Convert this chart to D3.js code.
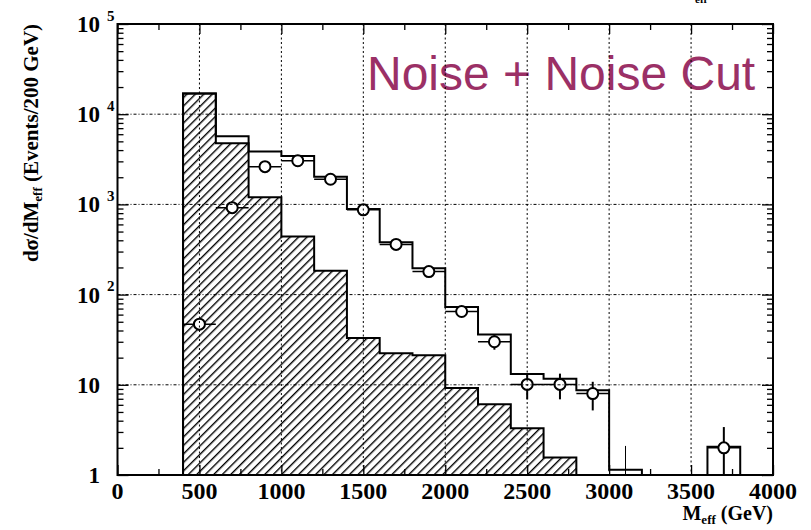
<!DOCTYPE html>
<html><head><meta charset="utf-8">
<script src="https://cdn.jsdelivr.net/npm/d3@7"></script>
<style>
html,body{margin:0;padding:0;background:#fff;}
svg{display:block;}
</style></head>
<body>
<svg id="c" width="811" height="530"></svg>
<script>
// ---------------- data ----------------
const binStarts = [400,600,800,1000,1200,1400,1600,1800,2000,2200,2400,2600,2800,3000,3200,3400,3600];
const binWidth = 200;
// open histogram (total expectation)
const totalMC = [17000,5700,3850,3450,2030,890,380,196,73,36,13.2,11.7,8.7,1.14,0,0,2.06];
// hatched histogram (noise)
const noiseMC = [17000,4750,1200,440,184,33,22.4,21.2,9.2,6.1,3.3,1.56,0,0,0,0,0];
// data points
const dataX = [500,700,900,1100,1300,1500,1700,1900,2100,2300,2500,2700,2900,3700];
const dataY = [47,920,2620,3050,1900,870,360,180,65,30,10.1,10.1,8.0,2.0];
const dataErr = [6.9,30,51,55,44,29.5,19,13.4,8.1,5.5,3.2,3.2,2.8,1.4];
// MC error marker on the 3000-3200 bin
const mcErrX = [3100];
const mcErrHi = [2.1];
// axis ticks / labels
const xMajor = [0,500,1000,1500,2000,2500,3000,3500,4000];
const xMinor = [250,750,1250,1750,2250,2750,3250,3750];
const xGrid = [500,1000,1500,2000,2500,3000,3500];
const yMajor = [1,10,100,1000,10000,100000];
const yBase = ["1","10","10","10","10","10"];
const yExp = ["","","2","3","4","5"];
const yGrid = [10,100,1000,10000];
const title = "Noise + Noise Cut";

// ---------------- layout ----------------
const L = 117.5, R = 773, T = 24, B = 475;
const svg = d3.select("#c");
const x = d3.scaleLinear().domain([0,4000]).range([L,R]);
const y = d3.scaleLog().domain([1,1e5]).range([B,T]).clamp(true);
const yv = v => v > 0 ? y(v) : B + 3;

const serif = "'Liberation Serif','Times New Roman',serif";

// minor y ticks (2..9 per decade)
const yMinor = [];
[1,10,100,1000,10000].forEach(d => { [2,3,4,5,6,7,8,9].forEach(m => yMinor.push(d*m)); });

svg.append("defs").html(`
 <clipPath id="plot"><rect x="${L}" y="${T}" width="${R-L}" height="${B-T}"/></clipPath>
 <pattern id="hatch" patternUnits="userSpaceOnUse" width="6" height="6" patternTransform="rotate(45)">
   <line x1="0.7" y1="0" x2="0.7" y2="6" stroke="#000" stroke-width="1.4"/>
 </pattern>`);

const g = svg.append("g").attr("clip-path","url(#plot)");

// step path builder
function stepPath(vals, closeToBottom){
  let p = `M${x(binStarts[0])},${B+3}`;
  let last = 0;
  vals.forEach((v,i) => {
    const lo = binStarts[i], hi = lo + binWidth;
    p += `L${x(lo)},${yv(v)}L${x(hi)},${yv(v)}`;
    last = hi;
  });
  p += `L${x(last)},${B+3}`;
  if (closeToBottom) p += "Z";
  return p;
}
const noiseIdx = noiseMC.map((v,i)=>v>0?i:-1).filter(i=>i>=0);
const noiseVals = noiseMC.slice(0, noiseIdx[noiseIdx.length-1]+1);
g.append("path").attr("d", stepPath(noiseVals, true))
  .attr("fill","url(#hatch)").attr("stroke","#000").attr("stroke-width",2).attr("stroke-linejoin","miter");

// open total histogram
g.append("path").attr("d", stepPath(totalMC, false))
  .attr("fill","none").attr("stroke","#000").attr("stroke-width",2);

// MC error marker
g.selectAll(".mce").data(mcErrX).join("line")
  .attr("x1",d=>x(d)).attr("x2",d=>x(d))
  .attr("y1",(d,i)=>y(mcErrHi[i])).attr("y2",B)
  .attr("stroke","#000").attr("stroke-width",1);

// title text
svg.append("text").attr("x",367).attr("y",89.5)
  .attr("font-family","'Liberation Sans',Arial,sans-serif").attr("font-size",48)
  .attr("fill","#9b3066").text(title);

// data points
const pts = g.selectAll(".pt").data(dataX).join("g");
pts.append("line")
  .attr("x1",d=>x(d-binWidth/2)).attr("x2",d=>x(d+binWidth/2))
  .attr("y1",(d,i)=>y(dataY[i])).attr("y2",(d,i)=>y(dataY[i]))
  .attr("stroke","#000").attr("stroke-width",1.5);
pts.append("line")
  .attr("x1",d=>x(d)).attr("x2",d=>x(d))
  .attr("y1",(d,i)=>y(dataY[i]+dataErr[i]))
  .attr("y2",(d,i)=>{const lo=dataY[i]-dataErr[i]; return lo>0?y(lo):B+3;})
  .attr("stroke","#000").attr("stroke-width",2);
pts.append("circle")
  .attr("cx",d=>x(d)).attr("cy",(d,i)=>y(dataY[i])).attr("r",5.5)
  .attr("fill","#fff").attr("stroke","#000").attr("stroke-width",2);

// grid
svg.append("g").selectAll("line").data(xGrid).join("line")
  .attr("x1",d=>x(d)).attr("x2",d=>x(d)).attr("y1",T).attr("y2",B)
  .attr("stroke","#000").attr("stroke-width",1).attr("stroke-dasharray","2,2.5");
svg.append("g").selectAll("line").data(yGrid).join("line")
  .attr("x1",L).attr("x2",R).attr("y1",d=>y(d)).attr("y2",d=>y(d))
  .attr("stroke","#000").attr("stroke-width",1).attr("stroke-dasharray","3,2,1,2");

// axes ticks (inward) through d3 axes
function tickAxis(axis, transform){
  const a = svg.append("g").attr("transform",transform).call(axis);
  a.select(".domain").remove();
  a.selectAll("line").attr("stroke","#000").attr("stroke-width",1.3);
  a.selectAll("text").remove();
}
tickAxis(d3.axisBottom(x).tickValues(xMajor).tickSize(-10).tickFormat(""), `translate(0,${B})`);
tickAxis(d3.axisBottom(x).tickValues(xMinor).tickSize(-6).tickFormat(""), `translate(0,${B})`);
tickAxis(d3.axisTop(x).tickValues(xMajor).tickSize(-10).tickFormat(""), `translate(0,${T})`);
tickAxis(d3.axisTop(x).tickValues(xMinor).tickSize(-6).tickFormat(""), `translate(0,${T})`);
tickAxis(d3.axisLeft(y).tickValues(yMajor).tickSize(-11).tickFormat(""), `translate(${L},0)`);
tickAxis(d3.axisLeft(y).tickValues(yMinor).tickSize(-6).tickFormat(""), `translate(${L},0)`);
tickAxis(d3.axisRight(y).tickValues(yMajor).tickSize(-11).tickFormat(""), `translate(${R},0)`);
tickAxis(d3.axisRight(y).tickValues(yMinor).tickSize(-6).tickFormat(""), `translate(${R},0)`);

// frame
svg.append("rect").attr("x",L).attr("y",T).attr("width",R-L).attr("height",B-T)
  .attr("fill","none").attr("stroke","#000").attr("stroke-width",2);

// x tick labels
svg.append("g").selectAll("text").data(xMajor).join("text")
  .attr("x",d=>x(d)).attr("y",498.5).attr("text-anchor","middle")
  .attr("font-family",serif).attr("font-weight","bold").attr("font-size",24)
  .text(d=>d);

// y tick labels
const yl = svg.append("g").attr("font-family",serif).attr("font-weight","bold");
yl.selectAll(".b").data(yMajor).join("text")
  .attr("x",100).attr("y",d=>y(d)+8).attr("text-anchor","end").attr("font-size",23)
  .text((d,i)=>yBase[i]);
yl.selectAll(".e").data(yMajor).join("text")
  .attr("x",107).attr("y",d=>y(d)-3.5).attr("font-size",15)
  .text((d,i)=>yExp[i]);

// y axis title
const yt = svg.append("text").attr("transform","translate(38,143) rotate(-90)")
  .attr("text-anchor","middle").attr("font-family",serif).attr("font-weight","bold").attr("font-size",21);
yt.append("tspan").text("dσ/dM");
yt.append("tspan").attr("font-size",13).attr("dy",4).text("eff");
yt.append("tspan").attr("dy",-4).text(" (Events/200 GeV)");

// x axis title
const xt = svg.append("text").attr("x",773).attr("y",520).attr("text-anchor","end")
  .attr("font-family",serif).attr("font-weight","bold").attr("font-size",20);
xt.append("tspan").text("M");
xt.append("tspan").attr("font-size",13).attr("dy",4).text("eff");
xt.append("tspan").attr("dy",-4).text(" (GeV)");

// clipped label remnant at the very top (cut off in the reference as well)
svg.append("text").attr("x",695).attr("y",2.5).attr("font-family",serif)
  .attr("font-weight","bold").attr("font-size",11).text("eff");
</script>
</body></html>
